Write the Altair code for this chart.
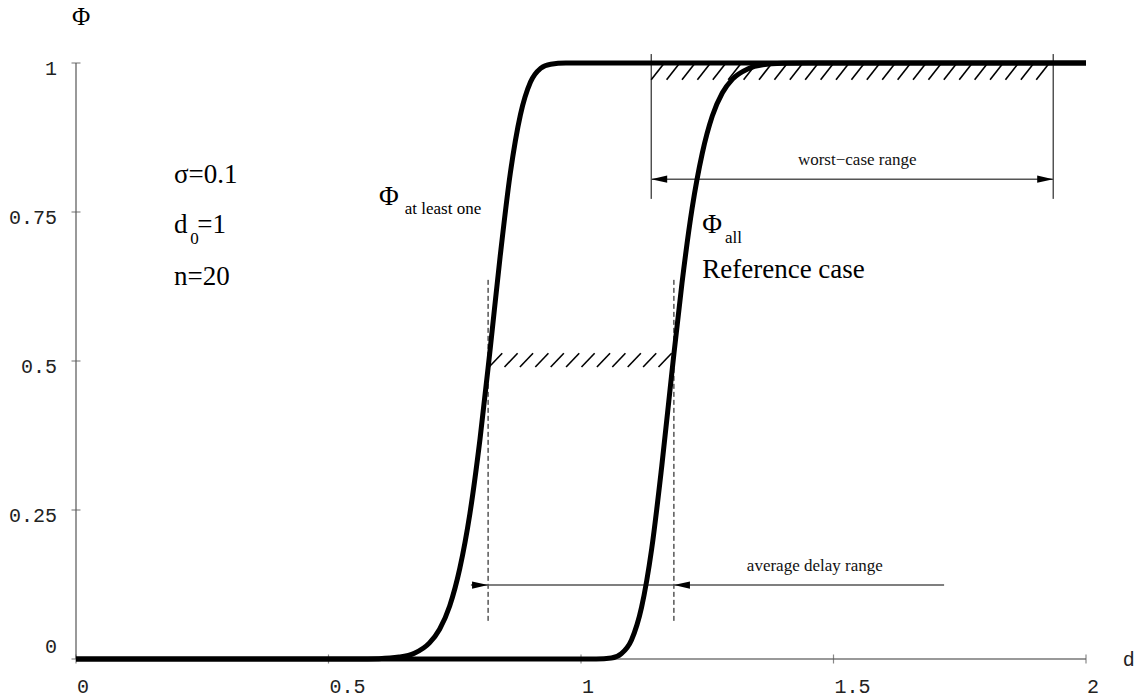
import altair as alt
import numpy as np
import pandas as pd

# ---- curve values ----
d_one = [0.0, 0.50, 0.55, 0.60, 0.64, 0.67, 0.70, 0.72, 0.74, 0.76, 0.78, 0.80,
         0.82, 0.84, 0.86, 0.88, 0.90, 0.92, 0.94, 0.97, 1.00, 2.00]
phi_one = [0.0, 0.0, 0.0001, 0.0006, 0.0032, 0.0096, 0.027, 0.050, 0.089, 0.152, 0.244, 0.369,
           0.519, 0.676, 0.815, 0.913, 0.968, 0.991, 0.998, 0.9999, 1.0, 1.0]
d_all = [0.0, 1.00, 1.03, 1.06, 1.08, 1.10, 1.12, 1.14, 1.16, 1.18, 1.20, 1.22,
         1.24, 1.26, 1.28, 1.30, 1.33, 1.36, 1.40, 1.45, 2.00]
phi_all = [0.0, 0.0, 0.0001, 0.0016, 0.009, 0.032, 0.087, 0.185, 0.324, 0.481, 0.631, 0.756,
           0.848, 0.911, 0.950, 0.973, 0.990, 0.997, 0.9994, 1.0, 1.0]

x_ticks = [0, 0.5, 1, 1.5, 2]
x_tick_labels = ["0", "0.5", "1", "1.5", "2"]
y_ticks = [0, 0.25, 0.5, 0.75, 1]
y_tick_labels = ["0", "0.25", "0.5", "0.75", "1"]

# ---- annotation geometry (data units) ----
axis_x = [0, 2]
axis_y = [0, 1]
dash_x = [0.816, 1.184]
dash_y = [0.064, 0.639]
worst_x = [1.139, 1.935]
worst_y = [0.772, 1.015]
worst_arrow_y = 0.805
avg_line_x = [0.782, 1.719]
avg_arrow_y = 0.124
avg_tips = [0.816, 1.184]
hatch_top = [1.139, 1.935, 0.972, 1.0]
hatch_mid = [0.818, 1.180, 0.490, 0.513]
hatch_step = 0.0305
hatch_slant = 0.026

big_text = ["σ=0.1", "d", "=1", "n=20", "Φ", "Φ", "Reference case"]
big_x = [0.194, 0.194, 0.240, 0.194, 0.600, 1.240, 1.240]
big_y = [0.799, 0.715, 0.715, 0.6275, 0.762, 0.715, 0.639]
small_text = ["0", "at least one", "all"]
small_x = [0.226, 0.651, 1.285]
small_y = [0.696, 0.747, 0.698]
range_text = ["worst−case range", "average delay range"]
range_x = [1.547, 1.463]
range_y = [0.829, 0.148]

xs = alt.Scale(domain=[0, 2], nice=False, zero=False)
ys = alt.Scale(domain=[0, 1], nice=False, zero=False)
SERIF = "Liberation Serif"
MONO = "Liberation Mono"


def X(f, **k):
    return alt.X(f, type="quantitative", scale=xs, axis=None, **k)


def Y(f, **k):
    return alt.Y(f, type="quantitative", scale=ys, axis=None, **k)


# axis lines
axis_df = pd.DataFrame({"x0": [axis_x[0], axis_x[0]], "x1": [axis_x[1], axis_x[0]],
                        "y0": [axis_y[0], axis_y[0]], "y1": [axis_y[0], axis_y[1]]})
axes = alt.Chart(axis_df).mark_rule(color="#777", strokeWidth=1.5).encode(
    x=X("x0"), x2="x1:Q", y=Y("y0"), y2="y1:Q")

xt = pd.DataFrame({"v": x_ticks, "t": x_tick_labels})
yt = pd.DataFrame({"v": y_ticks, "t": y_tick_labels})

xtick_marks = alt.Chart(xt).mark_tick(orient="vertical", size=9, thickness=1.2, color="#555").encode(
    x=X("v"), y=alt.YDatum(0, scale=ys, axis=None))
ytick_marks = alt.Chart(yt).mark_tick(orient="horizontal", size=9, thickness=1.2, color="#555").encode(
    y=Y("v"), x=alt.XDatum(0, scale=xs, axis=None))

xlabels = alt.Chart(xt).mark_text(align="left", baseline="alphabetic", dy=34, dx=1,
                                  font=MONO, fontSize=20, color="#222").encode(
    x=X("v"), y=alt.YDatum(0, scale=ys, axis=None), text="t:N")
ylabels = alt.Chart(yt).transform_filter("datum.v > 0").mark_text(
    align="right", baseline="alphabetic", dx=-19, dy=12, font=MONO, fontSize=20, color="#222").encode(
    y=Y("v"), x=alt.XDatum(0, scale=xs, axis=None), text="t:N")
ylabel0 = alt.Chart(yt).transform_filter("datum.v == 0").mark_text(
    align="right", baseline="alphabetic", dx=-19, dy=-6, font=MONO, fontSize=20, color="#222").encode(
    y=Y("v"), x=alt.XDatum(0, scale=xs, axis=None), text="t:N")

titles = alt.Chart(pd.DataFrame({"x": [0.01], "y": [1.064], "t": ["Φ"]})).mark_text(
    align="center", baseline="alphabetic", font=SERIF, fontSize=25, color="black").encode(
    x=X("x"), y=Y("y"), text="t:N")
dtitle = alt.Chart(pd.DataFrame({"x": [2.073], "y": [0.0], "t": ["d"]})).mark_text(
    align="left", baseline="alphabetic", dy=7, font=MONO, fontSize=20, color="#222").encode(
    x=X("x"), y=Y("y"), text="t:N")

# curves
c1 = alt.Chart(pd.DataFrame({"d": d_one, "p": phi_one})).mark_line(
    color="black", strokeWidth=5, interpolate="monotone", strokeJoin="round").encode(
    x=X("d"), y=Y("p"), order="d:Q")
c2 = alt.Chart(pd.DataFrame({"d": d_all, "p": phi_all})).mark_line(
    color="black", strokeWidth=5, interpolate="monotone", strokeJoin="round").encode(
    x=X("d"), y=Y("p"), order="d:Q")


def hatch_df(box):
    x0, x1, y0, y1 = box
    starts = np.arange(x0, x1 - hatch_slant + 1e-9, hatch_step)
    return pd.DataFrame({"x0": starts, "x1": starts + hatch_slant,
                         "y0": [y0] * len(starts), "y1": [y1] * len(starts)})


hatch = alt.Chart(pd.concat([hatch_df(hatch_top), hatch_df(hatch_mid)])).mark_rule(
    color="black", strokeWidth=1.6).encode(x=X("x0"), x2="x1:Q", y=Y("y0"), y2="y1:Q")

dashed = alt.Chart(pd.DataFrame({"x": dash_x, "y0": [dash_y[0]] * 2, "y1": [dash_y[1]] * 2})).mark_rule(
    color="black", strokeWidth=1, strokeDash=[5, 3]).encode(x=X("x"), y=Y("y0"), y2="y1:Q")

worst_v = alt.Chart(pd.DataFrame({"x": worst_x, "y0": [worst_y[0]] * 2, "y1": [worst_y[1]] * 2})).mark_rule(
    color="black", strokeWidth=1).encode(x=X("x"), y=Y("y0"), y2="y1:Q")

hlines = alt.Chart(pd.DataFrame({
    "x0": [worst_x[0], avg_line_x[0]], "x1": [worst_x[1], avg_line_x[1]],
    "y": [worst_arrow_y, avg_arrow_y]})).mark_rule(color="#555", strokeWidth=1.5).encode(
    x=X("x0"), x2="x1:Q", y=Y("y"))

RIGHT = "M0,0L-2,-0.45L-2,0.45Z"
LEFT = "M0,0L2,-0.45L2,0.45Z"
heads_right = alt.Chart(pd.DataFrame({"x": [worst_x[1], avg_tips[0]], "y": [worst_arrow_y, avg_arrow_y]})).mark_point(
    shape=RIGHT, filled=True, size=256, color="black", opacity=1).encode(x=X("x"), y=Y("y"))
heads_left = alt.Chart(pd.DataFrame({"x": [worst_x[0], avg_tips[1]], "y": [worst_arrow_y, avg_arrow_y]})).mark_point(
    shape=LEFT, filled=True, size=256, color="black", opacity=1).encode(x=X("x"), y=Y("y"))

big = alt.Chart(pd.DataFrame({"x": big_x, "y": big_y, "t": big_text})).mark_text(
    align="left", baseline="alphabetic", font=SERIF, fontSize=27, color="black").encode(
    x=X("x"), y=Y("y"), text="t:N")
small = alt.Chart(pd.DataFrame({"x": small_x, "y": small_y, "t": small_text})).mark_text(
    align="left", baseline="alphabetic", font=SERIF, fontSize=17, color="black").encode(
    x=X("x"), y=Y("y"), text="t:N")
ranges = alt.Chart(pd.DataFrame({"x": range_x, "y": range_y, "t": range_text})).mark_text(
    align="center", baseline="alphabetic", font=SERIF, fontSize=17, color="#111").encode(
    x=X("x"), y=Y("y"), text="t:N")

chart = alt.layer(
    axes, xtick_marks, ytick_marks, xlabels, ylabels, ylabel0, titles, dtitle,
    hatch, dashed, worst_v, hlines, heads_right, heads_left, c1, c2, big, small, ranges
).properties(
    width=1010, height=596,
    padding={"left": 76, "top": 63, "right": 58, "bottom": 40},
    autosize=alt.AutoSizeParams(type="none"),
    background="white",
).configure_view(stroke=None)

chart.save("out.html", embed_options={"renderer": "svg", "actions": False})
